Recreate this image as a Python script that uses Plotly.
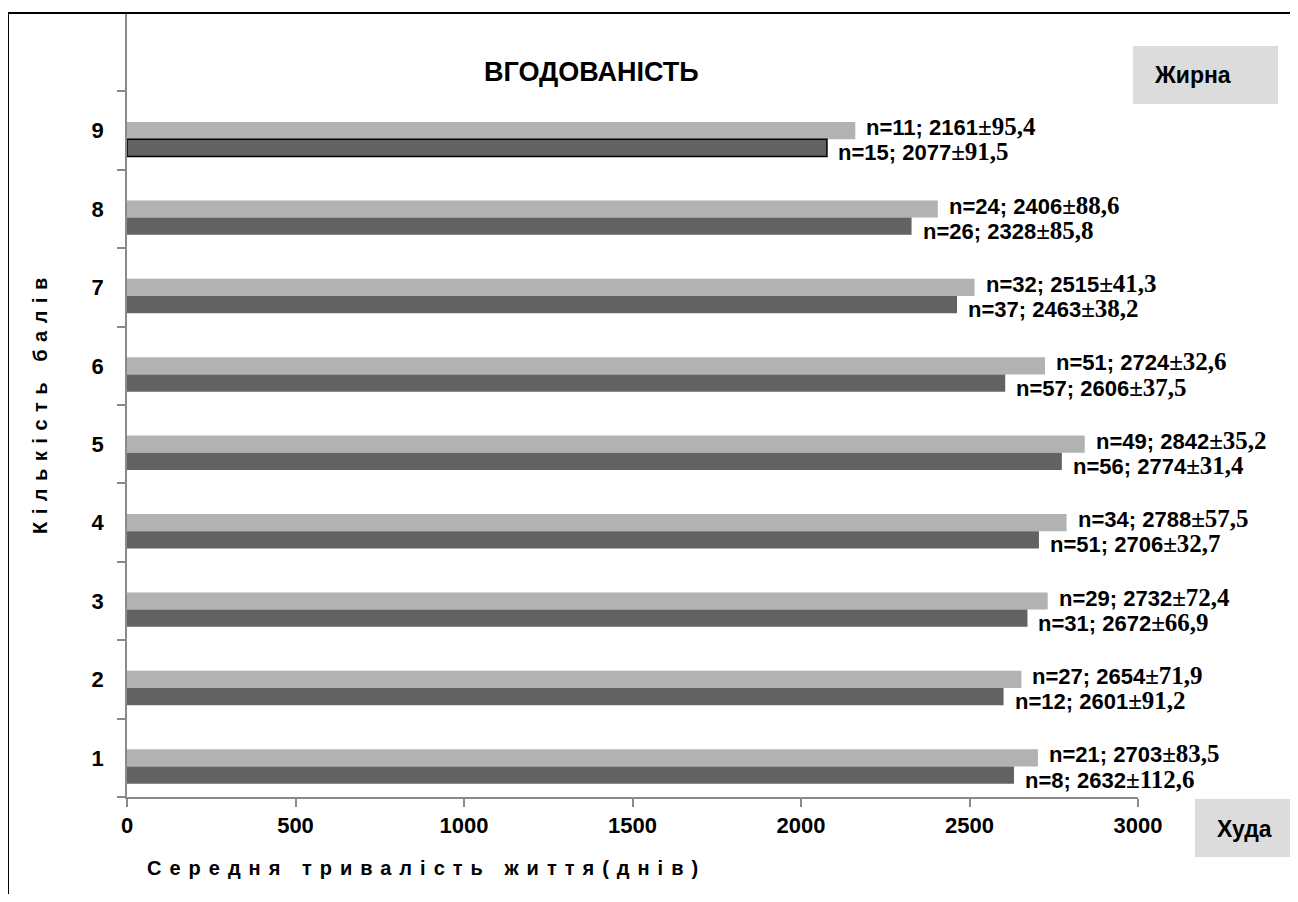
import plotly.graph_objects as go

# ---- data ----
categories = [1, 2, 3, 4, 5, 6, 7, 8, 9]
tick_labels = ["1", "2", "3", "4", "5", "6", "7", "8", "9"]

fat_values = [2703, 2654, 2732, 2788, 2842, 2724, 2515, 2406, 2161]   # Жирна
fat_n = [21, 27, 29, 34, 49, 51, 32, 24, 11]
fat_err = [83.5, 71.9, 72.4, 57.5, 35.2, 32.6, 41.3, 88.6, 95.4]

lean_values = [2632, 2601, 2672, 2706, 2774, 2606, 2463, 2328, 2077]  # Худа
lean_n = [8, 12, 31, 51, 56, 57, 37, 26, 15]
lean_err = [112.6, 91.2, 66.9, 32.7, 31.4, 37.5, 38.2, 85.8, 91.5]

x_ticks = [0, 500, 1000, 1500, 2000, 2500, 3000]

# ---- styles ----
SANS = "Liberation Sans, Arial, sans-serif"
SERIF = "Liberation Serif, Times New Roman, serif"
LIGHT = "#b2b2b2"
DARK = "#626262"
AXIS = "#8a8a8a"
BAR_W = 0.22


def fmt(v):
    return f"{v:.1f}".replace(".", ",")


def label(n, v, e):
    return (f"n={n}; {v}<span style='font-family:{SERIF};font-size:25px'>"
            f"±{fmt(e)}</span>")


fig = go.Figure()
fig.add_trace(go.Bar(
    x=fat_values, y=categories, orientation="h", name="Жирна",
    width=BAR_W, offset=-BAR_W / 2,
    marker=dict(color=LIGHT, line=dict(width=0)),
))
lean_line_w = [1.5 if c == 9 else 0 for c in categories]
fig.add_trace(go.Bar(
    x=lean_values, y=categories, orientation="h", name="Худа",
    width=BAR_W, offset=-BAR_W * 1.5,
    marker=dict(color=DARK, line=dict(width=lean_line_w, color="black")),
))

annotations = []
for c, v, n, e in zip(categories, fat_values, fat_n, fat_err):
    annotations.append(dict(
        x=v, y=c, xref="x", yref="y", text=label(n, v, e), showarrow=False,
        xanchor="left", yanchor="middle", xshift=9, yshift=4,
        font=dict(family=SANS, size=22, color="black", weight="bold"),
    ))
for c, v, n, e in zip(categories, lean_values, lean_n, lean_err):
    annotations.append(dict(
        x=v, y=c - BAR_W, xref="x", yref="y", text=label(n, v, e), showarrow=False,
        xanchor="left", yanchor="middle", xshift=9, yshift=-4,
        font=dict(family=SANS, size=22, color="black", weight="bold"),
    ))

# title
annotations.append(dict(
    x=0.459, y=0.925, xref="paper", yref="paper", text="<b>ВГОДОВАНІСТЬ</b>",
    showarrow=False, xanchor="center", yanchor="middle",
    font=dict(family=SANS, size=27, color="black"),
))
# axis titles
annotations.append(dict(
    x=-0.086, y=0.504, xref="paper", yref="paper", textangle=-90,
    text="<b><span style='letter-spacing:7.5px'>Кількість балів</span></b>",
    showarrow=False, xanchor="center", yanchor="middle",
    font=dict(family=SANS, size=20, color="black"),
))
annotations.append(dict(
    x=0.296, y=-0.0906, xref="paper", yref="paper",
    text="<b><span style='letter-spacing:8px'>Середня тривалість життя(днів)</span></b>",
    showarrow=False, xanchor="center", yanchor="middle",
    font=dict(family=SANS, size=20, color="black"),
))
# legend-like labels
annotations.append(dict(
    x=1.0138, y=0.921, xref="paper", yref="paper", text="<b>Жирна</b>",
    showarrow=False, xanchor="left", yanchor="middle",
    font=dict(family=SANS, size=23, color="black"),
))
annotations.append(dict(
    x=1.076, y=-0.041, xref="paper", yref="paper", text="<b>Худа</b>",
    showarrow=False, xanchor="left", yanchor="middle",
    font=dict(family=SANS, size=23, color="black"),
))

shapes = [
    dict(type="rect", xref="paper", yref="paper", x0=0.995, x1=1.1385,
         y0=0.884, y1=0.958, fillcolor="#dcdcdc", line=dict(width=0), layer="below"),
    dict(type="rect", xref="paper", yref="paper", x0=1.0564, x1=1.2,
         y0=-0.0765, y1=-0.00255, fillcolor="#dcdcdc", line=dict(width=0), layer="below"),
    # outer chart border (left & top visible)
    dict(type="line", xref="paper", yref="paper", x0=-0.1177, x1=-0.1177,
         y0=1.0, y1=-0.2, line=dict(color="black", width=2)),
    dict(type="line", xref="paper", yref="paper", x0=-0.1177, x1=1.2,
         y0=1.0, y1=1.0, line=dict(color="black", width=2)),
]

fig.update_layout(
    width=1282, height=886,
    margin=dict(l=119, r=152, t=5, b=97),
    plot_bgcolor="white", paper_bgcolor="white",
    barmode="overlay", showlegend=False,
    annotations=annotations, shapes=shapes,
    xaxis=dict(
        range=[0, 3000], tickvals=x_ticks, ticktext=[str(t) for t in x_ticks],
        showgrid=False, zeroline=False, showline=True, linecolor=AXIS, linewidth=1.5,
        ticks="outside", ticklen=8, tickcolor=AXIS, tickwidth=1.5,
        tickfont=dict(family=SANS, size=22, color="black", weight="bold"),
        ticklabelstandoff=0,
    ),
    yaxis=dict(
        range=[0.5, 10.5], tickvals=categories, ticktext=tick_labels,
        showgrid=False, zeroline=False, showline=True, linecolor=AXIS, linewidth=1.5,
        ticks="", tickfont=dict(family=SANS, size=22, color="black", weight="bold"),
        ticklabelstandoff=17,
        minor=dict(tickvals=[0.5 + i for i in range(10)], ticks="outside",
                   ticklen=8, tickcolor=AXIS, tickwidth=1.5, showgrid=False),
    ),
)

fig.write_html("out.html")
